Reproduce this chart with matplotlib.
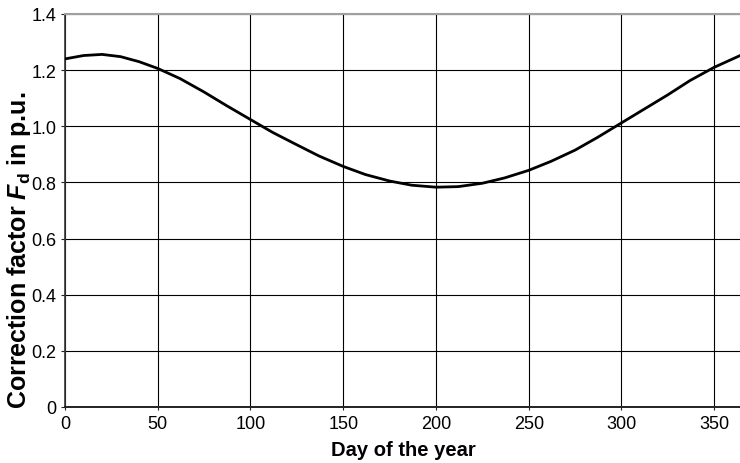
import matplotlib
matplotlib.use("Agg")
import matplotlib.pyplot as plt

# values
days = [0, 10, 20, 30, 40, 50, 62, 75, 87, 100, 112, 125, 137, 150, 162, 175,
        187, 200, 212, 225, 237, 250, 262, 275, 287, 300, 312, 325, 337, 350, 365]
fd = [1.240, 1.252, 1.256, 1.248, 1.230, 1.206, 1.170, 1.122, 1.074, 1.024,
      0.978, 0.934, 0.894, 0.857, 0.828, 0.805, 0.790, 0.783, 0.785, 0.797,
      0.816, 0.843, 0.875, 0.915, 0.960, 1.012, 1.060, 1.112, 1.163, 1.210, 1.255]

x_ticks = [0, 50, 100, 150, 200, 250, 300, 350]
y_ticks = [0, 0.2, 0.4, 0.6, 0.8, 1.0, 1.2, 1.4]
y_labels = ["0", "0.2", "0.4", "0.6", "0.8", "1.0", "1.2", "1.4"]

plt.rcParams["font.family"] = ["Liberation Sans", "DejaVu Sans"]
plt.rcParams["mathtext.fontset"] = "custom"
plt.rcParams["mathtext.it"] = "Liberation Sans:bold:italic"
plt.rcParams["mathtext.rm"] = "Liberation Sans:bold"

fig = plt.figure(figsize=(7.4, 4.64), dpi=100)
ax = fig.add_axes([0.0878, 0.1207, 0.9149, 0.847])

ax.plot(days, fd, color="black", lw=2.0, solid_capstyle="round", zorder=3)

ax.set_xlim(0, 365)
ax.set_ylim(0, 1.4)
ax.set_xticks(x_ticks)
ax.set_yticks(y_ticks)
ax.set_yticklabels(y_labels)
ax.tick_params(axis="both", labelsize=13, direction="out", color="#222222", width=0.8)
ax.tick_params(axis="y", length=3, pad=3)
ax.tick_params(axis="x", length=2.5, pad=3)

ax.grid(True, color="black", lw=0.8)
ax.set_axisbelow(True)

ax.spines["right"].set_visible(False)
ax.spines["top"].set_color("#a0a0a0")
ax.spines["top"].set_linewidth(1.5)
ax.spines["left"].set_color("#333333")
ax.spines["left"].set_linewidth(1.2)
ax.spines["bottom"].set_color("#222222")
ax.spines["bottom"].set_linewidth(1.4)

ax.set_xlabel("Day of the year", fontsize=14.5, fontweight="bold", labelpad=6)
ax.set_ylabel(r"Correction factor $F_{\mathrm{d}}$ in p.u.", fontsize=18,
              fontweight="bold")
ax.yaxis.set_label_coords(-0.047, 0.40)

plt.savefig("out.png", dpi=100)
plt.close()
